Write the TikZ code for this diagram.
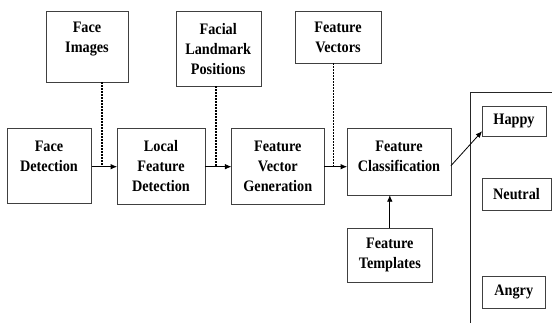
\documentclass[tikz,border=0pt]{standalone}
\usepackage{fontspec}
\setmainfont{Liberation Serif}[FakeStretch=0.89]
\usepackage{tikz}
\usetikzlibrary{arrows.meta}

\begin{document}
\begin{tikzpicture}[x=1pt, y=-1pt, >={Latex[length=6.5pt,width=5.5pt]},
    bloc/.style={draw=black!75, rectangle, inner sep=0pt, align=center,
      font=\fontsize{16}{20}\selectfont\bfseries},
    flux/.style={->, black, line width=0.8pt},
    pointille/.style={black, line width=1.6pt, dash pattern=on 1.5pt off 1.5pt}]
    \useasboundingbox (0,0) rectangle (552,322);
    % Entrees
    \node[bloc, minimum width=82.6pt, minimum height=70.3pt] at (87,46.8) (images) {Face\\Images\\\mbox{}};
    \node[bloc, minimum width=85pt, minimum height=74.3pt] at (218.2,48.8) (reperes) {Facial\\Landmark\\Positions};
    \node[bloc, minimum width=85.4pt, minimum height=51.3pt] at (338,37.3) (vecteurs) {Feature\\Vectors};
    % Chaine
    \node[bloc, minimum width=84.6pt, minimum height=74.3pt] at (49,165.8) (detection) {Face\\Detection\\\mbox{}};
    \node[bloc, minimum width=87.4pt, minimum height=75.3pt] at (161,166.3) (locale) {Local\\Feature\\Detection};
    \node[bloc, minimum width=92.3pt, minimum height=75.3pt] at (277.8,166.3) (generation) {Feature\\Vector\\Generation};
    \node[bloc, minimum width=103.4pt, minimum height=66.3pt] at (399,161.8) (classif) {Feature\\Classification\\[-8pt]\mbox{}};
    \node[bloc, minimum width=85pt, minimum height=53.3pt] at (389.8,255.3) (modeles) {Feature\\Templates};
    % Sorties
    \draw[black!85, line width=0.8pt] (470.5,330) |- (560,92.3);
    \node[bloc, minimum width=63.4pt, minimum height=29.7pt] at (514,121.2) (joie) {Happy};
    \node[bloc, minimum width=68.4pt, minimum height=32pt] at (516.5,194) (neutre) {Neutral};
    \node[bloc, minimum width=63pt, minimum height=32.3pt] at (513.8,292.2) (colere) {Angry};
    % Jonctions
    \coordinate (j1) at (101.7,166.7);
    \coordinate (j2) at (216,166.7);
    \coordinate (j3) at (333.3,166.7);
    % Fleches
    \draw[flux] (detection.east |- j1) -- (locale.west |- j1);
    \draw[flux] (locale.east |- j2) -- (generation.west |- j2);
    \draw[flux] (generation.east |- j3) -- (classif.west |- j3);
    \draw[flux] (modeles.north) -- (modeles.north |- classif.south);
    \draw[flux] ([yshift=-4pt]classif.east) -- ([yshift=5pt]joie.south west);
    \draw[pointille] (images.south -| j1) -- (j1);
    \draw[pointille] (reperes.south -| j2) -- (j2);
    \draw[pointille] (vecteurs.south -| j3) -- (j3);
  \end{tikzpicture}
\end{document}
